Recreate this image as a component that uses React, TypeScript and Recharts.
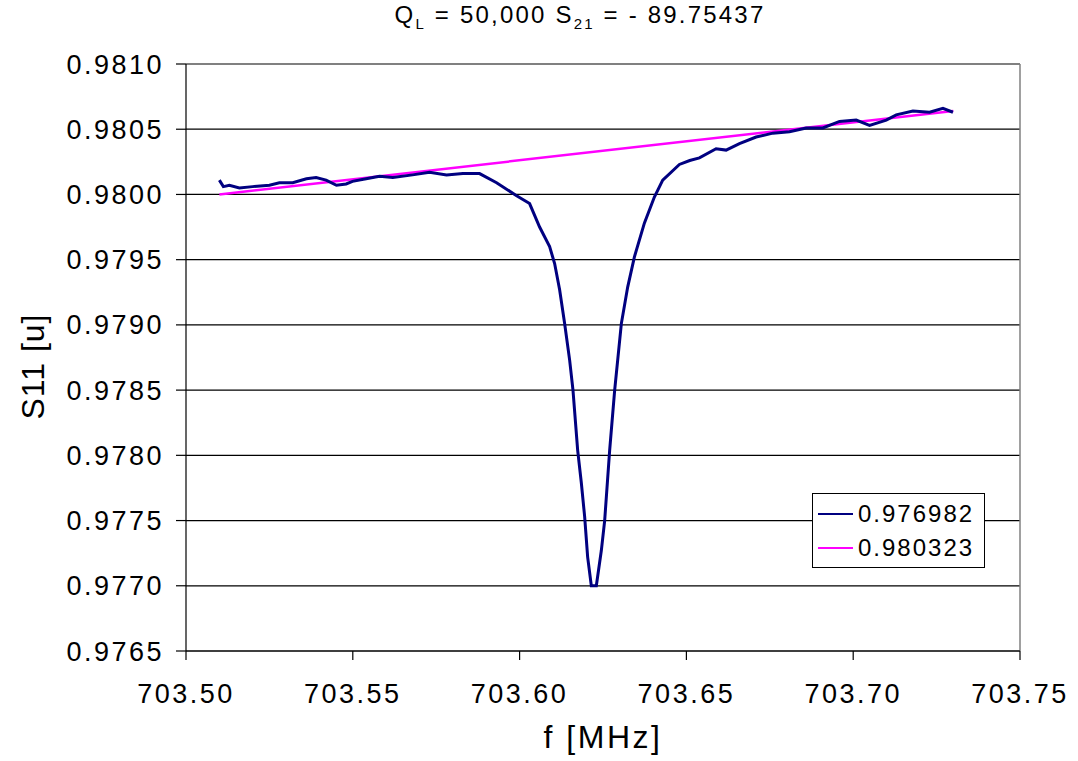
import React from "react";
import {
  LineChart,
  Line,
  XAxis,
  YAxis,
  CartesianGrid,
  ReferenceLine,
} from "recharts";

// measured S11 trace (frequency in MHz)
const freq = [
  703.51, 703.5112, 703.513, 703.516, 703.52, 703.525, 703.528, 703.532,
  703.5361, 703.539, 703.542, 703.5451, 703.548, 703.5499, 703.554, 703.558,
  703.562, 703.5679, 703.573, 703.5781, 703.583, 703.588, 703.5931, 703.5991,
  703.603, 703.606, 703.609, 703.6105, 703.612, 703.6135, 703.615, 703.616,
  703.6174, 703.6185, 703.6195, 703.6204, 703.6215, 703.623, 703.6245,
  703.6255, 703.627, 703.6285, 703.6305, 703.6324, 703.6344, 703.6374,
  703.6404, 703.6429, 703.6479, 703.651, 703.6539, 703.6589, 703.6619,
  703.6659, 703.6709, 703.6759, 703.6809, 703.6859, 703.6909, 703.6959,
  703.7009, 703.7049, 703.7099, 703.7129, 703.7179, 703.7229, 703.7269,
  703.7299,
];
const s11 = [
  0.98011, 0.98006, 0.98007, 0.98005, 0.98006, 0.98007, 0.98009, 0.98009,
  0.98012, 0.98013, 0.98011, 0.98007, 0.98008, 0.9801, 0.98012, 0.98014,
  0.98013, 0.98015, 0.98017, 0.98015, 0.98016, 0.98016, 0.98009, 0.97999,
  0.97993, 0.97975, 0.9796, 0.97947, 0.97927, 0.97901, 0.97873, 0.9785,
  0.97804, 0.97779, 0.97753, 0.97722, 0.977, 0.977, 0.97727, 0.9775,
  0.97804, 0.9785, 0.97901, 0.97929, 0.97952, 0.97978, 0.97998, 0.98011,
  0.98023, 0.98026, 0.98028, 0.98035, 0.98034, 0.98039, 0.98044, 0.98047,
  0.98048, 0.98051, 0.98051, 0.98056, 0.98057, 0.98053, 0.98057, 0.98061,
  0.98064, 0.98063, 0.98066, 0.98063,
];

// straight background fit
const fitFreq = [703.51, 703.73];
const fitS11 = [0.98, 0.98064];

const xTicks = [703.5, 703.55, 703.6, 703.65, 703.7, 703.75];
const yTicks = [
  0.9765, 0.977, 0.9775, 0.978, 0.9785, 0.979, 0.9795, 0.98, 0.9805, 0.981,
];

const legendItems = [
  { label: "0.976982", color: "#000080" },
  { label: "0.980323", color: "#ff00ff" },
];

const FONT = "'Liberation Sans', Arial, sans-serif";

const traceData = freq.map((f, i) => ({ f, v: s11[i] }));
const fitData = fitFreq.map((f, i) => ({ f, v: fitS11[i] }));

const YLabel = ({ viewBox }: any) => {
  const cy = viewBox.y + viewBox.height / 2 + 9;
  return (
    <text
      x={0}
      y={0}
      transform={`translate(44, ${cy}) rotate(-90)`}
      textAnchor="middle"
      fontSize={32}
      letterSpacing={1}
      fill="#000"
      fontFamily={FONT}
    >
      S11 [u]
    </text>
  );
};

const XLabel = ({ viewBox }: any) => {
  const cx = viewBox.x + viewBox.width / 2;
  return (
    <text
      x={cx}
      y={748}
      textAnchor="middle"
      fontSize={32}
      letterSpacing={2.5}
      fill="#000"
      fontFamily={FONT}
    >
      f [MHz]
    </text>
  );
};

export default function App() {
  return (
    <div
      style={{
        position: "absolute",
        left: 0,
        top: 0,
        width: 1078,
        height: 761,
        background: "#fff",
        fontFamily: FONT,
      }}
    >
      <div
        style={{
          position: "absolute",
          left: 330,
          width: 500,
          top: 1,
          textAlign: "center",
          fontSize: 24,
          letterSpacing: 2.2,
          color: "#000",
        }}
      >
        Q<sub style={{ fontSize: 15 }}>L</sub> = 50,000 S
        <sub style={{ fontSize: 15 }}>21</sub> = - 89.75437
      </div>

      <LineChart
        width={1078}
        height={761}
        margin={{ top: 64, right: 58, bottom: 0, left: 0 }}
      >
        <CartesianGrid
          horizontal
          vertical={false}
          stroke="#000"
          strokeWidth={1.2}
        />
        <XAxis
          type="number"
          dataKey="f"
          domain={[703.5, 703.75]}
          ticks={xTicks}
          allowDataOverflow
          height={110}
          tickFormatter={(v: number) => v.toFixed(2)}
          tick={{ fontSize: 27, fill: "#000", letterSpacing: 2.5, fontFamily: FONT }}
          tickSize={9}
          tickMargin={24}
          stroke="#000"
          strokeWidth={1.2}
          label={<XLabel />}
        />
        <YAxis
          type="number"
          dataKey="v"
          domain={[0.9765, 0.981]}
          ticks={yTicks}
          allowDataOverflow
          width={186}
          tickFormatter={(v: number) => v.toFixed(4)}
          tick={{ fontSize: 27, fill: "#000", letterSpacing: 2.5, fontFamily: FONT }}
          tickSize={10}
          tickMargin={12}
          stroke="#000"
          strokeWidth={1.2}
          label={<YLabel />}
        />
        <ReferenceLine y={0.981} stroke="#808080" strokeWidth={1.5} />
        <ReferenceLine x={703.75} stroke="#808080" strokeWidth={1.5} />
        <Line
          data={fitData}
          dataKey="v"
          type="linear"
          stroke="#ff00ff"
          strokeWidth={2.5}
          dot={false}
          isAnimationActive={false}
        />
        <Line
          data={traceData}
          dataKey="v"
          type="linear"
          stroke="#000080"
          strokeWidth={3}
          dot={false}
          isAnimationActive={false}
        />
      </LineChart>

      <div
        style={{
          position: "absolute",
          left: 812,
          top: 493,
          width: 173,
          height: 75,
          boxSizing: "border-box",
          border: "1.5px solid #000",
          background: "#fff",
          padding: "3px 0 0 5px",
        }}
      >
        {legendItems.map((it) => (
          <div
            key={it.label}
            style={{
              display: "flex",
              alignItems: "center",
              height: 34,
              fontSize: 24,
              letterSpacing: 2,
              color: "#000",
            }}
          >
            <span
              style={{
                display: "inline-block",
                width: 35,
                height: 2,
                background: it.color,
                marginRight: 5,
              }}
            />
            {it.label}
          </div>
        ))}
      </div>
    </div>
  );
}
